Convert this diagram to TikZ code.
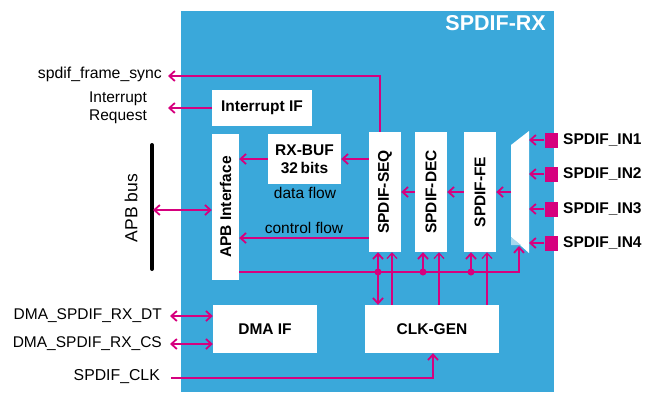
\documentclass[tikz,border=0pt]{standalone}
\usepackage{fontspec}
\setmainfont{Liberation Sans}
\usetikzlibrary{arrows.meta,calc}
\definecolor{spblue}{HTML}{3AA8DA}
\definecolor{spmag}{HTML}{D6007E}
\newcommand\boxfont{\fontsize{15.5}{18}\selectfont\bfseries}
\newcommand\sigfont{\fontsize{15.5}{18}\selectfont}
\newcommand\extfont{\fontsize{15.8}{18}\selectfont}
\tikzset{
  sig/.style={draw=spmag, line width=1.8pt},
  clkline/.style={draw=spmag, line width=1.2pt},
  arr/.style={-{Straight Barb[length=5.5pt,width=10pt]}},
  dbl/.style={{Straight Barb[length=5.5pt,width=10pt]}-{Straight Barb[length=5.5pt,width=10pt]}},
  box/.style={fill=white, inner sep=0pt, font=\boxfont, align=center},
  junction/.style={circle, fill=spmag, inner sep=0pt, minimum size=7pt},
  pin/.style={fill=spmag, inner sep=0pt, minimum width=13pt, minimum height=15pt},
  pinlabel/.style={anchor=west, font=\boxfont, inner sep=0pt},
  extlabel/.style={anchor=east, inner sep=0pt, font=\extfont},
}
\begin{document}
\begin{tikzpicture}[x=1pt, y=-1pt]
\useasboundingbox (0,0) rectangle (645,392);

% module outline
\fill[spblue] (181,11) rectangle (554,392);
\node[anchor=north east, text=white, font=\fontsize{21.5}{24}\selectfont\bfseries, inner sep=0pt] (title) at (546,15) {SPDIF-RX};

% internal blocks
\node[box, minimum width=100pt, minimum height=36pt] (iif) at (262,108) {Interrupt IF};
\node[box, minimum width=27pt, minimum height=146pt] (apb) at (225.5,207) {\rotatebox{90}{APB Interface}};
\node[box, minimum width=73pt, minimum height=50pt] (rxbuf) at (304.5,159) {RX-BUF\\32\,bits};
\node[box, minimum width=32pt, minimum height=120pt] (seq) at (385,192) {\rotatebox{90}{SPDIF-SEQ}};
\node[box, minimum width=32pt, minimum height=120pt] (dec) at (431,192) {\rotatebox{90}{SPDIF-DEC}};
\node[box, minimum width=32pt, minimum height=120pt] (fe) at (480,192) {\rotatebox{90}{SPDIF-FE}};
\node[box, minimum width=134pt, minimum height=48pt] (clk) at (432,329) {CLK-GEN};
\node[box, minimum width=104pt, minimum height=48pt] (dma) at (265,329) {DMA IF};

% input multiplexer
\fill[white] (511,145) -- (529,131) -- (529,253) -- (511,237) -- cycle;
\fill[spblue!45!white] (511,237) -- (521,245) -- (511,245) -- cycle;
\coordinate (muxL) at (511,192);
\coordinate (muxR) at (529,192);
\coordinate (muxB) at (519,246);

% flow labels
\node[font=\sigfont, inner sep=0pt] (dflow) at (305,193) {data flow};
\node[font=\sigfont, inner sep=0pt] (cflow) at (304,228) {control flow};

% external signal ends
\coordinate (fsync) at (168,76);
\coordinate (irq) at (168,108);
\coordinate (bus) at (153,210);
\coordinate (dmadt) at (170,316);
\coordinate (dmacs) at (170,344);
\coordinate (clkin) at (171,378);
\coordinate (bustop) at (152,145);
\coordinate (busbot) at (152,269);

% external labels
\node[extlabel] (fsynct) at (162,74) {spdif\_frame\_sync};
\node[font=\sigfont, align=center, inner sep=0pt] (irqt) at (118,108) {Interrupt\\Request};
\node[font=\fontsize{17.5}{20}\selectfont, rotate=90, inner sep=0pt] (bust) at (131,208) {APB bus};
\node[extlabel, font=\sigfont] (dmadtt) at (162,316) {DMA\_SPDIF\_RX\_DT};
\node[extlabel, font=\sigfont] (dmacst) at (162,344) {DMA\_SPDIF\_RX\_CS};
\node[extlabel] (clkint) at (160,377) {SPDIF\_CLK};

% APB bus
\draw[line width=4pt, line cap=round] (bustop) -- (busbot);

% input pins
\foreach \i/\y in {1/140,2/174,3/209,4/243}{
  \node[pin] (in\i) at (551,\y) {};
  \node[pinlabel] (in\i t) at (563,\y) {SPDIF\_IN\i};
  \draw[sig,arr] (in\i.west) -- (muxR |- in\i.west);
}

% data path
\draw[sig,arr] ([xshift=-5pt]seq.north) |- (fsync);
\draw[sig,arr] (iif.west) -- (irq);
\draw[sig,dbl] (bus) -- (apb.west |- bus);
\draw[sig,arr] (muxL) -- (fe.east);
\draw[sig,arr] (fe.west) -- (dec.east);
\draw[sig,arr] (dec.west) -- (seq.east);
\draw[sig,arr] (seq.west |- rxbuf.east) -- (rxbuf.east);
\draw[sig,arr] (rxbuf.west) -- (apb.east |- rxbuf.west);
\coordinate (cy) at (0,238);
\draw[sig,arr] (seq.west |- cy) -- (apb.east |- cy);

% control bus
\coordinate (busy) at (0,272);
\draw[sig,arr] (apb.east |- busy) -| (muxB);
\coordinate (seqA) at ([xshift=-7pt]seq.south);
\coordinate (seqB) at ([xshift=7pt]seq.south);
\coordinate (decA) at ([xshift=-8pt]dec.south);
\coordinate (decB) at ([xshift=8pt]dec.south);
\coordinate (feA) at ([xshift=-9pt]fe.south);
\coordinate (feB) at ([xshift=7pt]fe.south);
\draw[sig,dbl] (seqA |- clk.north) -- (seqA);
\draw[sig,arr] (decA |- busy) -- (decA);
\draw[sig,arr] (feA |- busy) -- (feA);
\node[junction] (j1) at (seqA |- busy) {};
\node[junction] (j2) at (decA |- busy) {};
\node[junction] (j3) at (feA |- busy) {};

% clocks
\draw[clkline,arr] (seqB |- clk.north) -- (seqB);
\draw[clkline,arr] (decB |- clk.north) -- (decB);
\draw[clkline,arr] (feB |- clk.north) -- (feB);
\draw[sig,arr] (clkin) -| ([xshift=1pt]clk.south);

% DMA handshake
\draw[sig,dbl] (dmadt) -- ([yshift=13pt]dma.west);
\draw[sig,dbl] (dmacs) -- ([yshift=-15pt]dma.west);
\end{tikzpicture}
\end{document}
